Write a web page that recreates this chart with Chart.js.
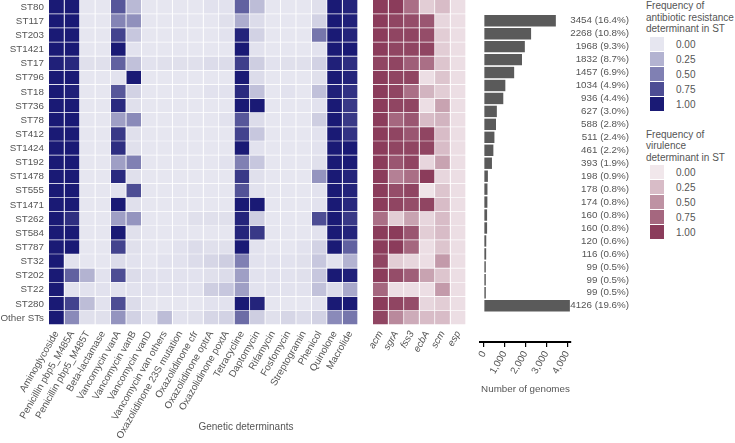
<!DOCTYPE html>
<html>
<head>
<meta charset="utf-8">
<script src="https://cdn.jsdelivr.net/npm/chart.js@4.4.1/dist/chart.umd.min.js"></script>
<style>
  body { margin: 0; background: #fff; }
  #wrap { position: relative; width: 735px; height: 443px; overflow: hidden; font-family: "Liberation Sans", Arial, sans-serif; color: #555; }
  canvas { position: absolute; top: 0; }
  .txt { position: absolute; font-size: 10px; line-height: 11.5px; white-space: nowrap; }
  .sw { position: absolute; width: 14px; height: 14px; }
</style>
</head>
<body>
<div id="wrap">
  <canvas id="resChart" width="370" height="443" style="left:0"></canvas>
  <canvas id="virChart" width="120" height="443" style="left:360px"></canvas>
  <canvas id="countChart" width="170" height="443" style="left:470px"></canvas>
  <div class="txt" style="left:146px; width:200px; text-align:center; top:421px; line-height:12px;">Genetic determinants</div>
  <div id="legend"></div>
</div>
<script>
const stNames = ["ST80", "ST117", "ST203", "ST1421", "ST17", "ST796", "ST18", "ST736", "ST78", "ST412",
    "ST1424", "ST192", "ST1478", "ST555", "ST1471", "ST262", "ST584", "ST787", "ST32", "ST202",
    "ST22", "ST280", "Other STs"];

const resDeterminants = ["Aminoglycoside", "Penicillin pbp5_M485A", "Penicillin pbp5_M485T", "Beta-lactamase",
    "Vancomycin vanA", "Vancomycin vanB", "Vancomycin vanD", "Vancomycin van others",
    "Oxazolidinone 23S mutation", "Oxazolidinone cfr", "Oxazolidinone optrA", "Oxazolidinone poxtA",
    "Tetracycline", "Daptomycin", "Rifamycin", "Fosfomycin", "Streptogramin", "Phenicol",
    "Quinolone", "Macrolide"];

const virDeterminants = ["acm", "sgrA", "fss3", "ecbA", "scm", "esp"];

// frequency of each resistance determinant per ST (rows follow stNames)
const resFreq = [
    [1, 1, 0, 0, 0.70, 0.22, 0, 0, 0, 0, 0.02, 0.02, 0.65, 0.20, 0, 0, 0, 0.03, 1, 0.95],
    [1, 1, 0, 0, 0.48, 0.42, 0, 0, 0, 0, 0, 0.03, 0.28, 0.05, 0, 0, 0, 0.10, 1, 0.97],
    [1, 1, 0, 0, 0.80, 0.15, 0, 0, 0, 0, 0, 0.02, 0.95, 0.10, 0, 0, 0, 0.55, 1, 0.95],
    [1, 1, 0, 0, 1, 0.02, 0, 0, 0, 0, 0, 0, 1, 0.02, 0, 0, 0, 0.02, 1, 1],
    [0.97, 0.93, 0.03, 0.03, 0.65, 0.18, 0.02, 0.03, 0.03, 0.03, 0.05, 0.05, 0.82, 0.12, 0.02, 0.03, 0.03, 0.10, 0.97, 0.90],
    [1, 1, 0, 0, 0.02, 1, 0, 0, 0, 0, 0, 0, 1, 0.05, 0, 0, 0, 0.03, 1, 0.95],
    [1, 0.97, 0, 0, 0.70, 0.10, 0, 0, 0, 0, 0.02, 0.02, 0.92, 0.18, 0, 0.02, 0, 0.18, 0.97, 0.88],
    [1, 1, 0, 0, 0.92, 0.03, 0, 0, 0, 0, 0, 0, 1, 1, 0, 0, 0, 0.02, 1, 0.85],
    [1, 1, 0, 0, 0.35, 0.45, 0, 0, 0, 0, 0, 0.02, 0.70, 0.05, 0, 0, 0, 0.12, 1, 0.85],
    [1, 1, 0, 0, 0.85, 0.03, 0, 0, 0, 0, 0, 0, 0.80, 0.15, 0, 0, 0, 0.02, 1, 0.88],
    [1, 1, 0, 0, 0.90, 0.03, 0, 0, 0, 0, 0, 0, 1, 0.02, 0, 0, 0, 0.02, 1, 1],
    [1, 1, 0, 0, 0.35, 0.50, 0, 0, 0, 0, 0, 0.02, 0.50, 0.15, 0, 0, 0, 0.03, 1, 1],
    [1, 1, 0, 0, 0.92, 0.03, 0, 0, 0, 0, 0, 0, 0.85, 0.03, 0, 0, 0, 0.40, 1, 0.95],
    [1, 1, 0, 0, 0.02, 0.75, 0, 0, 0, 0, 0, 0, 0.72, 0.02, 0, 0, 0, 0.02, 1, 0.95],
    [1, 1, 0, 0, 1, 0.03, 0, 0, 0, 0, 0, 0, 1, 1, 0, 0, 0, 0.02, 1, 0.93],
    [1, 0.90, 0, 0, 0.35, 0.40, 0, 0, 0, 0.03, 0.03, 0.03, 0.95, 0.12, 0, 0, 0, 0.75, 1, 0.85],
    [1, 1, 0, 0, 1, 0.03, 0, 0, 0, 0, 0, 0, 0.95, 0.85, 0, 0, 0, 0.02, 1, 0.95],
    [1, 1, 0, 0, 0.80, 0.03, 0, 0, 0.02, 0.05, 0.03, 0.03, 1, 0.02, 0, 0, 0.02, 0.10, 1, 0.65],
    [1, 0.02, 0, 0, 0.05, 0.02, 0, 0.02, 0.02, 0.05, 0.08, 0.12, 0.50, 0.02, 0.02, 0.02, 0.03, 0.15, 0.02, 0.25],
    [1, 0.65, 0.25, 0.02, 0.75, 0.05, 0.02, 0.02, 0.02, 0.02, 0.03, 0.05, 0.35, 0.02, 0.02, 0.02, 0.03, 0.15, 1, 0.97],
    [1, 0.02, 0.02, 0.02, 0.02, 0.02, 0.02, 0.02, 0.02, 0.02, 0.12, 0.15, 0.35, 0.02, 0.02, 0.02, 0.02, 0.18, 0.05, 0.30],
    [1, 0.80, 0.20, 0.02, 0.75, 0.05, 0, 0, 0, 0, 0.02, 0.02, 1, 0.95, 0, 0, 0, 0.02, 1, 1],
    [1, 0.45, 0.03, 0.03, 0.40, 0.10, 0.02, 0.20, 0.02, 0.03, 0.08, 0.10, 0.60, 0.12, 0.03, 0.08, 0.05, 0.10, 0.45, 0.55]
];

// frequency of each virulence determinant per ST
const virFreq = [
    [1, 1, 0.70, 0.15, 0.25, 0.05],
    [1, 0.95, 0.90, 0.85, 0.10, 0.05],
    [1, 0.95, 0.95, 0.90, 0.15, 0.05],
    [1, 0.95, 0.95, 0.95, 0.15, 0.05],
    [0.95, 0.95, 0.80, 0.70, 0.20, 0.05],
    [1, 0.95, 0.95, 0.05, 0.20, 0.05],
    [1, 0.95, 0.70, 0.30, 0.15, 0.05],
    [1, 0.95, 0.95, 0.05, 0.40, 0.05],
    [1, 0.75, 0.85, 0.25, 0.30, 0.05],
    [1, 0.95, 0.85, 0.95, 0.25, 0.05],
    [1, 0.95, 0.95, 0.95, 0.25, 0.05],
    [1, 0.85, 0.95, 0.10, 0.40, 0.05],
    [1, 0.60, 0.70, 1, 0.10, 0.05],
    [1, 0.90, 0.95, 0.02, 0.20, 0.05],
    [1, 0.95, 0.90, 0.95, 0.25, 0.05],
    [0.70, 0.15, 0.40, 0.10, 0.25, 0.05],
    [1, 1, 0.85, 0.15, 0.25, 0.05],
    [1, 1, 0.75, 0.05, 0.20, 0.05],
    [0.95, 0.15, 0.10, 0.05, 0.45, 0.05],
    [1, 0.90, 0.80, 0.40, 0.20, 0.05],
    [0.75, 0.05, 0.05, 0.05, 0.45, 0.05],
    [1, 0.95, 0.90, 0.10, 0.15, 0.05],
    [0.95, 0.55, 0.35, 0.25, 0.25, 0.05]
];

const genomeCounts = [3454, 2268, 1968, 1832, 1457, 1034, 936, 627, 588, 511, 461, 393,
    198, 178, 174, 160, 160, 120, 116, 99, 99, 99, 4126];
const genomePct = ["16.4", "10.8", "9.3", "8.7", "6.9", "4.9", "4.4", "3.0", "2.8", "2.4", "2.2", "1.9",
    "0.9", "0.8", "0.8", "0.8", "0.8", "0.6", "0.6", "0.5", "0.5", "0.5", "19.6"];
const countTicks = [0, 1000, 2000, 3000, 4000];

const legendSteps = [0, 0.25, 0.5, 0.75, 1];

const blueLo = [230, 230, 240], blueHi = [26, 26, 117];
const redLo = [241, 231, 235], redHi = [139, 60, 91];
const textColor = "#555";
const fontFamily = '"Liberation Sans", Arial, sans-serif';

Chart.defaults.font.family = fontFamily;
Chart.defaults.font.size = 9.8;
Chart.defaults.color = textColor;
Chart.defaults.animation = false;

function heatColor(lo, hi, v) {
    const c = lo.map((l, k) => Math.round(l + (hi[k] - l) * v));
    return "rgb(" + c.join(",") + ")";
}

function createHeatmap(canvasId, cols, matrix, lo, hi, showY, pad, italic) {
    const datasets = cols.map((name, j) => ({
        label: name,
        data: stNames.map(() => 1),
        backgroundColor: matrix.map((row) => heatColor(lo, hi, row[j])),
        borderColor: "#fff",
        borderWidth: { top: 0, left: 0, right: 1, bottom: 1 },
        borderSkipped: false,
        barPercentage: 1,
        categoryPercentage: 1,
    }));

    return new Chart(document.getElementById(canvasId), {
        type: "bar",
        data: { labels: stNames, datasets: datasets },
        options: {
            responsive: false,
            indexAxis: "y",
            layout: { padding: pad, autoPadding: false },
            plugins: { legend: { display: false }, tooltip: { enabled: false } },
            scales: {
                x: {
                    type: "linear",
                    stacked: true,
                    min: 0,
                    max: cols.length,
                    grid: { display: false, drawTicks: false },
                    border: { display: false },
                    afterBuildTicks: (s) => {
                        s.ticks = cols.map((c, i) => ({ value: i + 0.5 }));
                    },
                    afterFit: (s) => {
                        s.height = 118;
                        s.paddingLeft = 0;
                        s.paddingRight = 0;
                    },
                    ticks: {
                        autoSkip: false,
                        minRotation: 60,
                        maxRotation: 60,
                        padding: 4,
                        font: { style: italic ? "italic" : "normal" },
                        callback: (v, i) => cols[i],
                    },
                },
                y: {
                    stacked: true,
                    display: showY,
                    grid: { display: false, drawTicks: false },
                    border: { display: false },
                    ticks: { padding: 5, autoSkip: false },
                    afterFit: (s) => {
                        if (showY) s.width = 49;
                        s.paddingTop = 0;
                        s.paddingBottom = 0;
                    },
                },
            },
        },
    });
}

createHeatmap("resChart", resDeterminants, resFreq, blueLo, blueHi, true,
    { top: 0, left: 0, right: 12, bottom: 0 }, false);
createHeatmap("virChart", virDeterminants, virFreq, redLo, redHi, false,
    { top: 0, left: 13, right: 14, bottom: 0 }, true);

// count labels to the right of the bars
const barLabels = {
    id: "barLabels",
    afterDatasetsDraw(chart) {
        const ctx = chart.ctx;
        const meta = chart.getDatasetMeta(0);
        ctx.save();
        ctx.font = "9.8px " + fontFamily;
        ctx.fillStyle = textColor;
        ctx.textAlign = "right";
        ctx.textBaseline = "middle";
        meta.data.forEach((bar, i) => {
            ctx.fillText(genomeCounts[i] + " (" + genomePct[i] + "%)", chart.chartArea.right + 58, bar.y);
        });
        ctx.restore();
    },
};

new Chart(document.getElementById("countChart"), {
    type: "bar",
    data: {
        datasets: [
            {
                data: genomeCounts.map((v, i) => ({ x: v, y: i })),
                backgroundColor: "#5a5a5a",
                barPercentage: 0.88,
                categoryPercentage: 1,
            },
        ],
    },
    options: {
        responsive: false,
        indexAxis: "y",
        layout: { padding: { top: 0, left: 10, right: 69, bottom: 0 }, autoPadding: false },
        plugins: { legend: { display: false }, tooltip: { enabled: false } },
        scales: {
            y: {
                type: "linear",
                reverse: true,
                min: -0.5,
                max: 23.7,
                display: false,
                ticks: { stepSize: 1, includeBounds: false },
            },
            x: {
                type: "linear",
                min: -180,
                max: 4180,
                grid: { drawOnChartArea: false, drawTicks: true, tickLength: 5, color: "#000", lineWidth: 1.2 },
                border: { display: true, color: "#000", width: 2 },
                afterBuildTicks: (s) => {
                    s.ticks = countTicks.map((v) => ({ value: v }));
                },
                ticks: {
                    autoSkip: false,
                    minRotation: 60,
                    maxRotation: 60,
                    padding: 2,
                    callback: (v) => v.toLocaleString("en-US"),
                },
                title: {
                    display: true,
                    text: "Number of genomes",
                    color: textColor,
                    padding: { top: 0, bottom: 48 },
                },
                afterFit: (s) => {
                    s.height = 101;
                    s.paddingLeft = 0;
                    s.paddingRight = 0;
                },
            },
        },
    },
    plugins: [barLabels],
});

// legends
function buildLegend(titleLines, titleTop, swatchTop, lo, hi) {
    let html = "";
    titleLines.forEach((t, i) => {
        html += '<div class="txt" style="left:646px; top:' + (titleTop + i * 11.5) + 'px">' + t + "</div>";
    });
    legendSteps.forEach((v, i) => {
        const top = swatchTop + i * 15;
        html += '<div class="sw" style="left:650px; top:' + top + "px; background:" + heatColor(lo, hi, v) + '"></div>';
        html += '<div class="txt" style="left:676px; top:' + (top + 1.5) + 'px">' + v.toFixed(2) + "</div>";
    });
    return html;
}

document.getElementById("legend").innerHTML =
    buildLegend(["Frequency of", "antibiotic resistance", "determinant in ST"], 0, 37, blueLo, blueHi) +
    buildLegend(["Frequency of", "virulence", "determinant in ST"], 128.5, 165, redLo, redHi);
</script>
</body>
</html>
